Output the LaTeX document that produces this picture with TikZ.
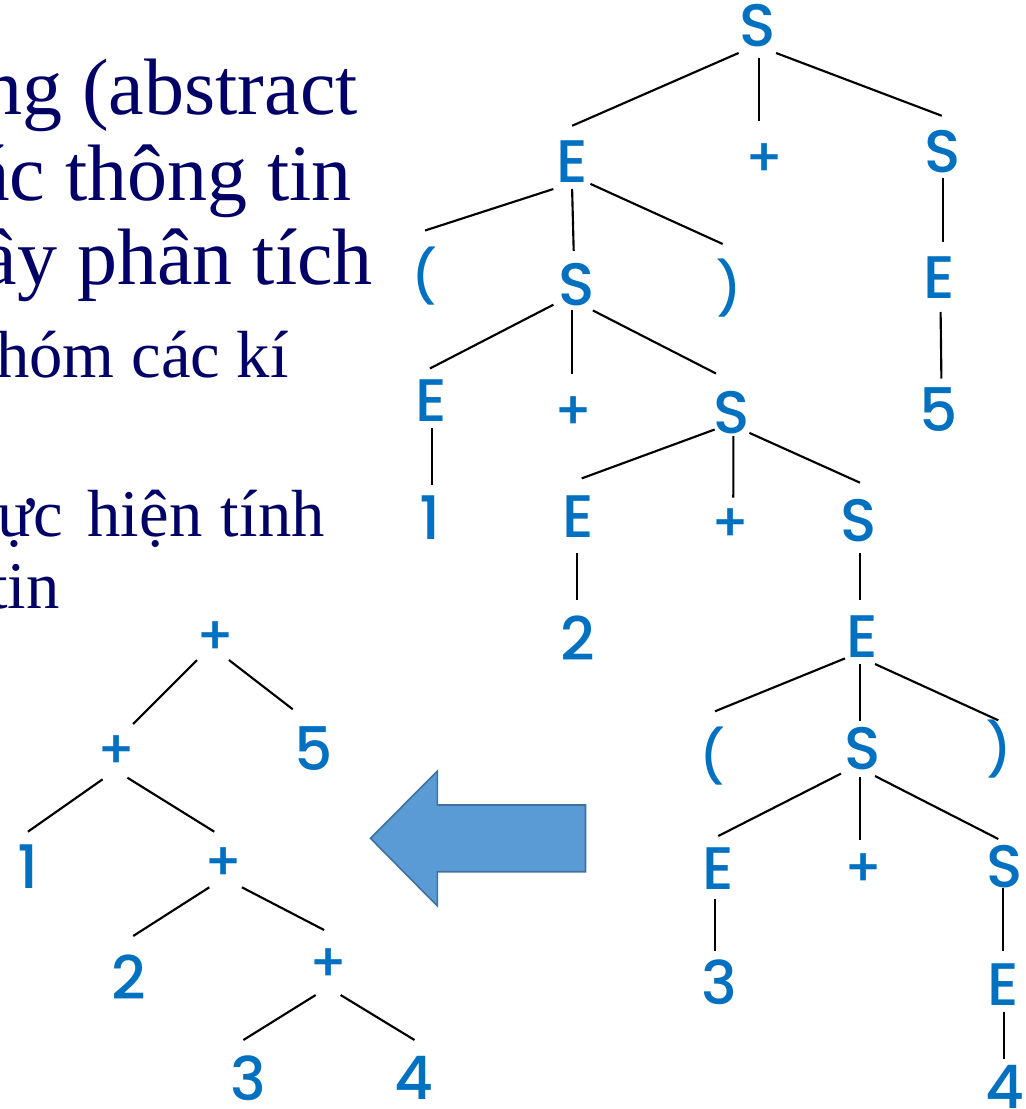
\documentclass[tikz,border=0pt]{standalone}
\usepackage{fontspec}
\setmainfont{Liberation Serif}
\newfontfamily\treefont{Poppins}[UprightFont=* Medium]
\definecolor{navytext}{RGB}{0,0,102}
\definecolor{treeblue}{HTML}{0070C0}
\definecolor{arrowfill}{HTML}{5B9BD5}
\definecolor{arrowline}{HTML}{41719C}
\begin{document}
\begin{tikzpicture}[x=0.75pt,y=-0.75pt,
  sym/.style={text=treeblue, font=\treefont\fontsize{45}{54}\selectfont, inner sep=0pt},
  paren/.style={text=treeblue, font=\treefont\fontsize{39}{46}\selectfont, inner sep=0pt},
  op/.style={text=treeblue, font=\treefont\fontsize{40}{48}\selectfont, inner sep=0pt},
  edge/.style={line width=1.6pt, black},
  bigtext/.style={text=navytext, font=\fontsize{60}{72}\selectfont, inner sep=0pt, anchor=base east},
  smalltext/.style={text=navytext, font=\fontsize{50}{60}\selectfont, inner sep=0pt, anchor=base east}]
\useasboundingbox (0,0) rectangle (1025,1109);
\begin{scope}
\clip (0,0) rectangle (1025,1109);
% left text (cropped at the left edge as in the reference)
\node[bigtext] (t1) at (358,115) {ng (abstract};
\node[bigtext] (t2) at (352,201) {ác thông tin};
\node[bigtext] (t3) at (373,284) {ây phân tích};
\node[smalltext] (t4) at (289,377) {nhóm các kí};
\node[smalltext] (t5) at (325,536) {ực\hspace{0.36em}hiện\hspace{0.28em}tính};
\node[smalltext] (t6) at (60,608) {tin};

% parse tree
\node[sym] (S0) at (758,26) {S};
\node[sym] (E1) at (572,162) {E};
\node[op]  (P1) at (765,160) {+};
\node[sym] (S1) at (943,152) {S};
\node[paren] (L1) at (424,276) {(};
\node[sym] (S2) at (577,285) {S};
\node[paren] (R1) at (729,288) {)};
\node[sym] (E2) at (939,278) {E};
\node[sym] (E3) at (431,401) {E};
\node[op]  (P2) at (574,413) {+};
\node[sym] (S3) at (732,413) {S};
\node[sym] (N5) at (939,410) {5};
\node[sym] (N1) at (430,518) {1};
\node[sym] (E4) at (578,517) {E};
\node[op]  (P3) at (731,525) {+};
\node[sym] (S4) at (859,521) {S};
\node[sym] (N2) at (578,638) {2};
\node[sym] (E5) at (862,637) {E};
\node[paren] (L2) at (712,756) {(};
\node[sym] (S5) at (863,749) {S};
\node[paren] (R2) at (999,749) {)};
\node[sym] (E6) at (718,869) {E};
\node[op]  (P4) at (864,870) {+};
\node[sym] (S6) at (1005,867) {S};
\node[sym] (N3) at (719,982) {3};
\node[sym] (E7) at (1003,985) {E};
\node[sym] (N4) at (1005,1087) {4};
\end{scope}

\foreach \a/\b/\c/\d in {
  738.6/53/572.1/125.8, 759.4/57.7/759.4/121.5, 776.1/53/941.8/115.8,
  553.4/189/425.1/230.5, 572.1/189/573.7/251, 590.4/183.9/722.7/244,
  943/178.5/943/242.3,
  553.4/304.7/429.9/368.5, 572.1/310.4/572.1/374.2, 592.8/310.4/716/373.5,
  940.6/312/941.4/378.5,
  431.9/428/431.9/485,
  714.7/429.5/581.7/478.4, 733.4/436/733.3/497.6, 749.4/432.9/860/482.7,
  577.3/553/577.3/600, 860/553/860/600,
  845/658.4/715/711.3, 860/664/860/720.7, 875/664/998.3/720.3,
  841/773.6/718.3/836, 860/777/860/840, 875/776/998.3/839,
  715/898.6/715/951, 1003/888/1003/951, 1004/1011.7/1004/1058.6}
  \draw[edge] (\a,\b) -- (\c,\d);

% abstract syntax tree
\node[op]  (A1) at (215.7,638) {+};
\node[op]  (A2) at (117,751.7) {+};
\node[sym] (A5) at (313.8,749) {5};
\node[sym] (A1n) at (27.7,866.7) {1};
\node[op]  (A3) at (224,863.7) {+};
\node[sym] (A2n) at (128.4,976.7) {2};
\node[op]  (A4) at (328.7,965.5) {+};
\node[sym] (A3n) at (248.4,1078) {3};
\node[sym] (A4n) at (414,1077.5) {4};

\foreach \a/\b/\c/\d in {
  197/660/133.2/724, 228.9/660/292.8/709.3,
  102.6/779.3/27.9/831.7, 127.4/777.7/214.3/831.7,
  209.3/887.3/133.2/936, 241.9/887.3/324.1/930,
  315.7/995/243.4/1040, 340.6/995/414.5/1040}
  \draw[edge] (\a,\b) -- (\c,\d);

% block arrow
\draw[fill=arrowfill, draw=arrowline, line width=1.2pt, line join=miter]
  (370.5,838.3) -- (437.4,771) -- (437.4,805) -- (585.5,805) -- (585.5,871.7)
  -- (437.4,871.7) -- (437.4,906) -- cycle;
\end{tikzpicture}
\end{document}
